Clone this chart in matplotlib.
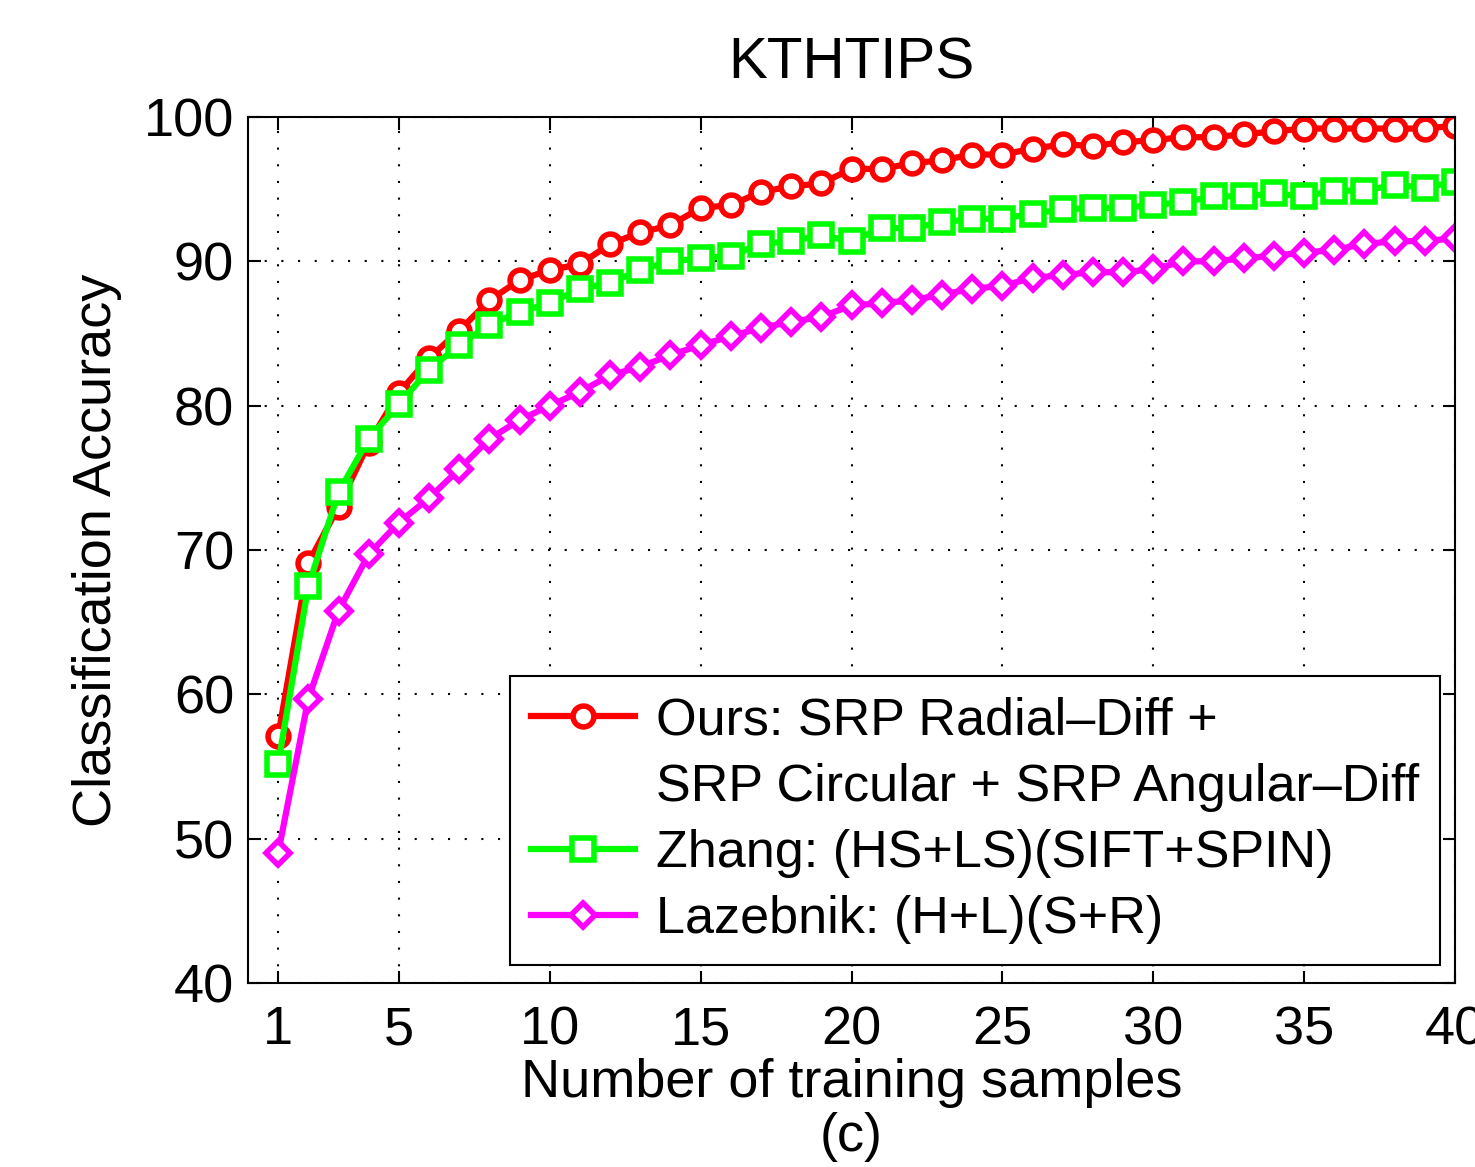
import matplotlib
matplotlib.use('Agg')
from matplotlib import pyplot as plt
from matplotlib.lines import Line2D

plt.rcParams['font.family'] = ['Liberation Sans', 'DejaVu Sans']

samples = list(range(1, 41))

ours = [57.1, 69.1, 73.0, 77.4, 80.9, 83.3, 85.2, 87.3, 88.7, 89.4,
        89.8, 91.2, 92.0, 92.5, 93.7, 93.9, 94.8, 95.2, 95.4, 96.4,
        96.4, 96.8, 97.0, 97.4, 97.4, 97.8, 98.1, 98.0, 98.25, 98.4,
        98.6, 98.6, 98.8, 99.0, 99.2, 99.2, 99.2, 99.2, 99.2, 99.4]

zhang = [55.2, 67.5, 74.0, 77.7, 80.1, 82.5, 84.2, 85.6, 86.5, 87.1,
         88.1, 88.5, 89.4, 90.0, 90.2, 90.4, 91.2, 91.4, 91.8, 91.4,
         92.3, 92.3, 92.7, 92.95, 92.95, 93.3, 93.6, 93.7, 93.7, 93.9,
         94.1, 94.5, 94.5, 94.7, 94.5, 94.9, 94.9, 95.3, 95.1, 95.5]

lazebnik = [49.0, 59.7, 65.8, 69.7, 71.9, 73.6, 75.6, 77.7, 79.0, 80.0,
            80.95, 82.1, 82.7, 83.5, 84.2, 84.8, 85.4, 85.8, 86.15, 86.95,
            87.1, 87.3, 87.7, 88.1, 88.3, 88.85, 89.05, 89.25, 89.25, 89.45,
            90.0, 90.0, 90.2, 90.4, 90.6, 90.8, 91.2, 91.4, 91.4, 91.6]

labels = ['Ours: SRP Radial\u2013Diff +',
          'SRP Circular + SRP Angular\u2013Diff',
          'Zhang: (HS+LS)(SIFT+SPIN)',
          'Lazebnik: (H+L)(S+R)']

fs = 39

fig = plt.figure(figsize=(14.75, 11.67), dpi=100)
ax = fig.add_axes([248/1475, 1 - 983/1167, (1455-248)/1475, (983-117)/1167])

l1, = ax.plot(samples, ours, color=(1, 0, 0), lw=4.5, marker='o', ms=15,
              mew=4, mfc='white', mec=(1, 0, 0))
l2, = ax.plot(samples, zhang, color=(0, 1, 0), lw=4.5, marker='s', ms=15.5,
              mew=4, mfc='white', mec=(0, 1, 0))
l3, = ax.plot(samples, lazebnik, color=(1, 0, 1), lw=4.5, marker='D', ms=12.5,
              mew=4, mfc='white', mec=(1, 0, 1))

ax.set_xlim(0, 40)
ax.set_ylim(40, 100)
ax.set_xticks([1, 5, 10, 15, 20, 25, 30, 35, 40])
ax.set_yticks([40, 50, 60, 70, 80, 90, 100])
ax.tick_params(direction='in', length=9, width=1.5, labelsize=fs,
               top=True, right=True, pad=10)
ax.tick_params(axis='x', pad=16)
ax.grid(True, color='black', linestyle=(0, (1, 7)), lw=1.5)
for s in ax.spines.values():
    s.set_linewidth(1.5)

ax.set_title('KTHTIPS', fontsize=42, pad=28)
ax.set_xlabel('Number of training samples\n(c)', fontsize=fs, labelpad=2,
              linespacing=1.1)
ax.set_ylabel('Classification Accuracy', fontsize=fs, labelpad=16)

blank = Line2D([], [], color='none')
leg = ax.legend([l1, blank, l2, l3], labels, loc='lower right',
                bbox_to_anchor=(0.9876, 0.0208), borderaxespad=0,
                prop={'size': 37.5}, fancybox=False, framealpha=1,
                edgecolor='black', handlelength=2.0, handletextpad=0.4,
                borderpad=0.4, labelspacing=0.33)
leg.get_frame().set_linewidth(1.5)

fig.savefig('out.png', dpi=100)
